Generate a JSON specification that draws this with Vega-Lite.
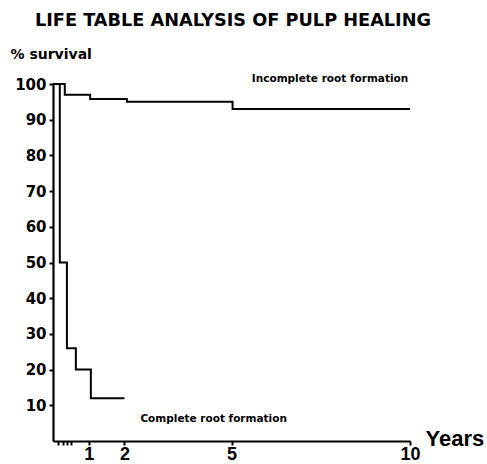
{
  "$schema": "https://vega.github.io/schema/vega-lite/v6.json",
  "autosize": "none",
  "width": 357,
  "height": 357,
  "padding": {"left": 53, "top": 84, "right": 77, "bottom": 23},
  "background": "white",
  "title": {
    "text": "LIFE TABLE ANALYSIS OF PULP HEALING",
    "anchor": "start",
    "frame": "group",
    "dx": -18,
    "offset": 17,
    "font": "DejaVu Sans",
    "fontSize": 17.7,
    "fontWeight": "bold",
    "color": "black"
  },
  "config": {
    "view": {"stroke": null},
    "axis": {"grid": false, "labelOverlap": false, "labelBound": false, "domainColor": "black", "tickColor": "black", "labelColor": "black", "titleColor": "black", "domainWidth": 2.2, "tickWidth": 2}
  },
  "datasets": {
    "curves": [
      {"group": "Complete root formation", "years": 0, "survival": 100},
      {"group": "Complete root formation", "years": 0.19, "survival": 50},
      {"group": "Complete root formation", "years": 0.39, "survival": 26},
      {"group": "Complete root formation", "years": 0.64, "survival": 20},
      {"group": "Complete root formation", "years": 1.06, "survival": 12},
      {"group": "Complete root formation", "years": 2.0, "survival": 12},
      {"group": "Incomplete root formation", "years": 0, "survival": 100},
      {"group": "Incomplete root formation", "years": 0.33, "survival": 97},
      {"group": "Incomplete root formation", "years": 1.04, "survival": 95.8},
      {"group": "Incomplete root formation", "years": 2.07, "survival": 95},
      {"group": "Incomplete root formation", "years": 5.03, "survival": 93},
      {"group": "Incomplete root formation", "years": 10.0, "survival": 93}
    ],
    "labels": [
      {"label": "Incomplete root formation", "years": 7.76, "survival": 101.5},
      {"label": "Complete root formation", "years": 4.5, "survival": 6.2}
    ]
  },
  "encoding": {
    "x": {
      "field": "years", "type": "quantitative",
      "scale": {"domain": [0, 10], "nice": false, "zero": true},
      "axis": {
        "values": [0.14, 0.28, 0.39, 0.5, 1, 2, 5, 10],
        "labelExpr": "datum.value >= 1 ? datum.label : ''",
        "labelOverlap": false,
        "labelFlush": false,
        "labelFont": "Liberation Sans",
        "labelFontWeight": "bold",
        "labelFontSize": 18,
        "labelPadding": 0,
        "tickSize": 4,
        "title": "Years",
        "titleFont": "Liberation Sans",
        "titleFontWeight": "bold",
        "titleFontSize": 22,
        "titleAnchor": "start",
        "titleAlign": "left",
        "titleBaseline": "alphabetic",
        "titleX": 372,
        "titleY": 4
      }
    },
    "y": {
      "field": "survival", "type": "quantitative",
      "scale": {"domain": [0, 100], "nice": false},
      "axis": {
        "values": [10, 20, 30, 40, 50, 60, 70, 80, 90, 100],
        "labelOverlap": false,
        "labelFlush": false,
        "labelSeparation": 0,
        "labelFont": "DejaVu Sans",
        "labelFontWeight": "bold",
        "labelFontSize": 15,
        "labelPadding": 3,
        "tickSize": 4,
        "title": "% survival",
        "titleFont": "DejaVu Sans",
        "titleFontWeight": "bold",
        "titleFontSize": 14,
        "titleAngle": 0,
        "titleAlign": "left",
        "titleBaseline": "alphabetic",
        "titleX": -43,
        "titleY": -26
      }
    }
  },
  "layer": [
    {
      "data": {"name": "curves"},
      "mark": {"type": "line", "interpolate": "step-after", "color": "black", "strokeWidth": 2, "clip": false},
      "encoding": {
        "detail": {"field": "group"}
      }
    },
    {
      "data": {"name": "labels"},
      "mark": {"type": "text", "font": "DejaVu Sans", "fontWeight": "bold", "fontSize": 10.5, "color": "black", "align": "center", "baseline": "middle"},
      "encoding": {
        "text": {"field": "label"}
      }
    }
  ]
}
